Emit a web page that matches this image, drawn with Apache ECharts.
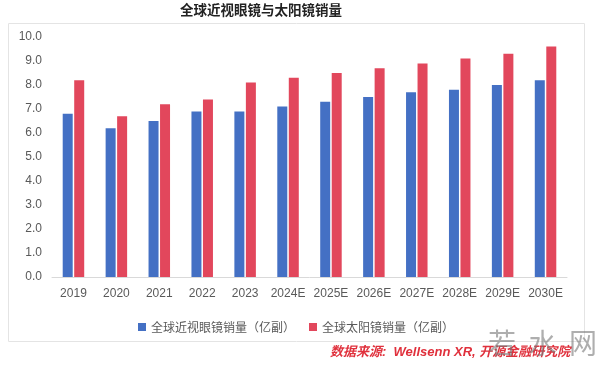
<!DOCTYPE html>
<html><head><meta charset="utf-8">
<script src="https://cdn.jsdelivr.net/npm/echarts@6/dist/echarts.min.js"></script>
<style>html,body{margin:0;padding:0;background:#fff}#c{width:600px;height:367px}</style>
</head><body><div id="c"></div>
<script>
const categories = ['2019','2020','2021','2022','2023','2024E','2025E','2026E','2027E','2028E','2029E','2030E'];
const myopiaSales = [6.8,6.2,6.5,6.9,6.9,7.1,7.3,7.5,7.7,7.8,8.0,8.2];
const sunglassSales = [8.2,6.7,7.2,7.4,8.1,8.3,8.5,8.7,8.9,9.1,9.3,9.6];
const seriesNames = ['全球近视眼镜销量（亿副）','全球太阳镜销量（亿副）'];
const titleText = '全球近视眼镜与太阳镜销量';
const sourceText = '数据来源:  Wellsenn XR, 开源金融研究院';
const watermarkText = '若  水  网';

const FONT = '"Liberation Sans","Noto Sans CJK SC",sans-serif';
const chart = echarts.init(document.getElementById('c'));
chart.setOption({
  animation: false,
  textStyle: {fontFamily: FONT},
  graphic: [
    {type:'rect', shape:{x:8.5,y:23.5,width:576,height:318}, style:{fill:'none',stroke:'#e4e4e4',lineWidth:1}, z:-1},
    {type:'text', left:180, top:3, style:{text:titleText, font:'bold 13.5px "Noto Sans CJK SC",sans-serif', fill:'#222'}},
    {type:'text', left:330, top:346, style:{text:sourceText, font:'italic bold 13px "Liberation Sans","Noto Sans CJK SC",sans-serif', fill:'#e0303c'}},
    {type:'text', left:488, top:329, style:{text:watermarkText, font:'28px "Noto Sans CJK SC",sans-serif', fill:'rgba(120,120,120,0.6)'}}
  ],
  grid: {left:52, right:33, top:37, bottom:90},
  legend: {
    data: seriesNames, left:133, top:316, icon:'rect', itemWidth:8, itemHeight:8, itemGap:14,
    textStyle:{color:'#595959', fontSize:12, fontFamily:'"Noto Sans CJK SC",sans-serif'}
  },
  xAxis: {
    type:'category', data:categories,
    axisLine:{lineStyle:{color:'#d9d9d9'}}, axisTick:{show:false},
    axisLabel:{color:'#595959', fontSize:12, margin:11, interval:0}
  },
  yAxis: {
    type:'value', min:0, max:10, interval:1,
    axisLine:{show:false}, axisTick:{show:false}, splitLine:{show:false},
    axisLabel:{color:'#595959', fontSize:12, margin:10, formatter:v=>v.toFixed(1)}
  },
  series: [
    {name:seriesNames[0], type:'bar', data:myopiaSales, barWidth:10, barGap:'15%', itemStyle:{color:'#4470c4'}},
    {name:seriesNames[1], type:'bar', data:sunglassSales, barWidth:10, itemStyle:{color:'#e2475c'}}
  ]
});
</script></body></html>
